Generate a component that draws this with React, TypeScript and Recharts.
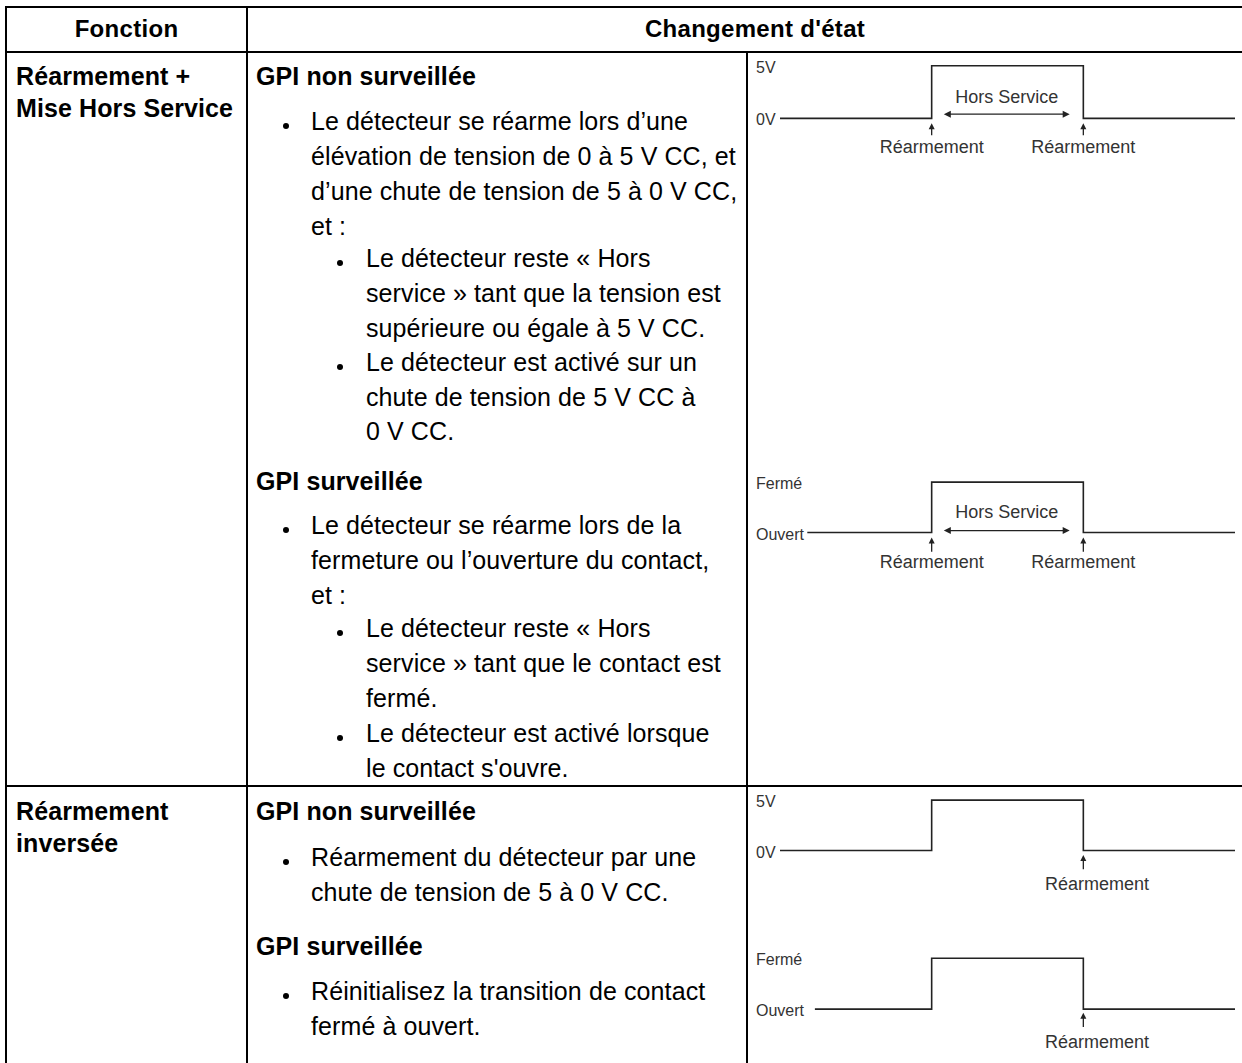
import React from "react";
import { LineChart, Line, XAxis, YAxis, ReferenceLine, ReferenceDot } from "recharts";

// ---- table text ----
const headerLabels = ["Fonction", "Changement d'état"];
const functionRow1 = ["Réarmement +", "Mise Hors Service"];
const functionRow2 = ["Réarmement", "inversée"];

// kind: h = bold title, b1/c1 = bullet + continuation, b2/c2 = nested bullet + continuation
type Ln = [string, string, number];
const descRow1: Ln[] = [
  ["h", "GPI non surveillée", 76],
  ["b1", "Le détecteur se réarme lors d’une", 121],
  ["c1", "élévation de tension de 0 à 5 V CC, et", 156],
  ["c1", "d’une chute de tension de 5 à 0 V CC,", 191],
  ["c1", "et :", 226],
  ["b2", "Le détecteur reste « Hors", 258],
  ["c2", "service » tant que la tension est", 293],
  ["c2", "supérieure ou égale à 5 V CC.", 328],
  ["b2", "Le détecteur est activé sur un", 362],
  ["c2", "chute de tension de 5 V CC à", 397],
  ["c2", "0 V CC.", 431],
  ["h", "GPI surveillée", 481],
  ["b1", "Le détecteur se réarme lors de la", 525],
  ["c1", "fermeture ou l’ouverture du contact,", 560],
  ["c1", "et :", 595],
  ["b2", "Le détecteur reste « Hors", 628],
  ["c2", "service » tant que le contact est", 663],
  ["c2", "fermé.", 698],
  ["b2", "Le détecteur est activé lorsque", 733],
  ["c2", "le contact s'ouvre.", 768],
];
const descRow2: Ln[] = [
  ["h", "GPI non surveillée", 811],
  ["b1", "Réarmement du détecteur par une", 857],
  ["c1", "chute de tension de 5 à 0 V CC.", 892],
  ["h", "GPI surveillée", 946],
  ["b1", "Réinitialisez la transition de contact", 991],
  ["c1", "fermé à ouvert.", 1026],
];

// ---- diagram data ----
const voltageLabels = ["0V", "5V"];
const contactLabels = ["Ouvert", "Fermé"];
const timesVoltage = [0, 1, 2, 3];
const timesContactA = [0.18, 1, 2, 3];
const timesContactB = [0.23, 1, 2, 3];
const pulseLevels = [0, 1, 0, 0];
const resetTimesBoth = [1, 2];
const resetTimesFall = [2];
const horsServiceSpan = [1.08, 1.91];
const resetLabel = "Réarmement";
const horsServiceLabel = "Hors Service";

const FONT = '"Liberation Sans", Arial, Helvetica, sans-serif';
const INK = "#222";
const LABEL = "#333";

const toRows = (times: number[]) => times.map((t, i) => ({ t, level: pulseLevels[i] }));

function DoubleArrow(p: any) {
  const { x1, y1, x2 } = p;
  const h = 7;
  const w = 3.5;
  return (
    <g>
      <line x1={x1 + h - 1} y1={y1} x2={x2 - h + 1} y2={y1} stroke={INK} strokeWidth={1.2} />
      <polygon points={`${x1},${y1} ${x1 + h},${y1 - w} ${x1 + h},${y1 + w}`} fill={INK} />
      <polygon points={`${x2},${y1} ${x2 - h},${y1 - w} ${x2 - h},${y1 + w}`} fill={INK} />
    </g>
  );
}

function UpArrow(p: any) {
  const { x1, y1, y2 } = p;
  const h = 6;
  const w = 3;
  return (
    <g>
      <line x1={x1} y1={y1} x2={x1} y2={y2 + h - 1} stroke={INK} strokeWidth={1.3} />
      <polygon points={`${x1},${y2} ${x1 - w},${y2 + h} ${x1 + w},${y2 + h}`} fill={INK} />
    </g>
  );
}

interface DiagramProps {
  top: number;
  height: number;
  times: number[];
  levelLabels: string[];
  resets: number[];
  resetLabelX: number;
  arrowTail: number;
  arrowHead: number;
  labelY: number;
  horsY?: number;
  horsArrowY?: number;
}

function Diagram(d: DiagramProps) {
  return (
    <div style={{ position: "absolute", left: 748, top: d.top }}>
      <LineChart
        width={494}
        height={d.height}
        data={toRows(d.times)}
        margin={{ top: 0, right: 7, bottom: 0, left: 0 }}
      >
        <XAxis type="number" dataKey="t" domain={[0, 3]} hide />
        <YAxis
          type="number"
          domain={[-1, 1.3]}
          ticks={[0, 1]}
          interval={0}
          width={32}
          axisLine={false}
          tickLine={false}
          tick={(p: any) => (
            <text x={8} y={p.y + 7} fontSize={16} fill={LABEL} fontFamily={FONT}>
              {d.levelLabels[p.payload.value]}
            </text>
          )}
        />
        <Line
          type="stepAfter"
          dataKey="level"
          stroke={INK}
          strokeWidth={1.6}
          dot={false}
          isAnimationActive={false}
        />
        {d.horsY !== undefined && (
          <ReferenceLine
            segment={[
              { x: horsServiceSpan[0], y: d.horsArrowY },
              { x: horsServiceSpan[1], y: d.horsArrowY },
            ]}
            shape={DoubleArrow}
          />
        )}
        {d.horsY !== undefined && (
          <ReferenceDot
            x={(horsServiceSpan[0] + horsServiceSpan[1]) / 2}
            y={d.horsY}
            r={0}
            fill="none"
            stroke="none"
            label={{ value: horsServiceLabel, position: "center", fill: LABEL, fontSize: 18, fontFamily: FONT }}
          />
        )}
        {d.resets.map((t) => (
          <ReferenceLine
            key={`a${t}`}
            segment={[
              { x: t, y: d.arrowTail },
              { x: t, y: d.arrowHead },
            ]}
            shape={UpArrow}
          />
        ))}
        {d.resets.map((t) => (
          <ReferenceDot
            key={`l${t}`}
            x={t + d.resetLabelX}
            y={d.labelY}
            r={0}
            fill="none"
            stroke="none"
            label={{ value: resetLabel, position: "center", fill: LABEL, fontSize: 18, fontFamily: FONT }}
          />
        ))}
      </LineChart>
    </div>
  );
}

const lineX: Record<string, number> = { h: 256, b1: 311, c1: 311, b2: 366, c2: 366 };
const bulletX: Record<string, number> = { b1: 286, b2: 340 };

function TextLine({ text, cy, x, bold }: { text: string; cy: number; x: number; bold?: boolean }) {
  return (
    <div
      style={{
        position: "absolute",
        left: x,
        top: cy - 18,
        lineHeight: "36px",
        fontSize: 25,
        letterSpacing: 0.1,
        whiteSpace: "nowrap",
        fontWeight: bold ? 700 : 400,
      }}
    >
      {text}
    </div>
  );
}

function Desc({ lines }: { lines: Ln[] }) {
  return (
    <>
      {lines.map(([kind, text, cy], i) => (
        <React.Fragment key={i}>
          {bulletX[kind] !== undefined && (
            <div
              style={{
                position: "absolute",
                left: bulletX[kind] - 3,
                top: cy + 2,
                width: 6,
                height: 6,
                borderRadius: "50%",
                background: "#000",
              }}
            />
          )}
          <TextLine text={text} cy={cy} x={lineX[kind]} bold={kind === "h"} />
        </React.Fragment>
      ))}
    </>
  );
}

const rule = (left: number, top: number, width: number, height: number) => (
  <div style={{ position: "absolute", left, top, width, height, background: "#000" }} />
);

export default function App() {
  return (
    <div
      style={{
        position: "absolute",
        left: 0,
        top: 0,
        width: 1242,
        height: 1063,
        overflow: "hidden",
        background: "#fff",
        fontFamily: FONT,
        color: "#000",
      }}
    >
      {rule(5, 6, 1300, 2)}
      {rule(5, 51, 1300, 2)}
      {rule(5, 785, 1300, 2)}
      {rule(5, 6, 2, 1100)}
      {rule(246, 6, 2, 1100)}
      {rule(746, 51, 2, 1100)}

      <div style={{ position: "absolute", left: 7, width: 239, top: 11, lineHeight: "36px", fontSize: 24, fontWeight: 700, letterSpacing: 0.3, textAlign: "center" }}>
        {headerLabels[0]}
      </div>
      <div style={{ position: "absolute", left: 248, width: 1014, top: 11, lineHeight: "36px", fontSize: 24, fontWeight: 700, letterSpacing: 0.3, textAlign: "center" }}>
        {headerLabels[1]}
      </div>

      <TextLine text={functionRow1[0]} cy={76} x={16} bold />
      <TextLine text={functionRow1[1]} cy={108} x={16} bold />
      <TextLine text={functionRow2[0]} cy={811} x={16} bold />
      <TextLine text={functionRow2[1]} cy={843} x={16} bold />

      <Desc lines={descRow1} />
      <Desc lines={descRow2} />

      <Diagram
        top={50}
        height={121}
        times={timesVoltage}
        levelLabels={voltageLabels}
        resets={resetTimesBoth}
        resetLabelX={0}
        arrowTail={-0.32}
        arrowHead={-0.09}
        labelY={-0.54}
        horsY={0.41}
        horsArrowY={0.08}
      />
      <Diagram
        top={467}
        height={116}
        times={timesContactA}
        levelLabels={contactLabels}
        resets={resetTimesBoth}
        resetLabelX={0}
        arrowTail={-0.38}
        arrowHead={-0.1}
        labelY={-0.58}
        horsY={0.42}
        horsArrowY={0.04}
      />
      <Diagram
        top={785}
        height={116}
        times={timesVoltage}
        levelLabels={voltageLabels}
        resets={resetTimesFall}
        resetLabelX={0.09}
        arrowTail={-0.37}
        arrowHead={-0.09}
        labelY={-0.65}
      />
      <Diagram
        top={943}
        height={117}
        times={timesContactB}
        levelLabels={contactLabels}
        resets={resetTimesFall}
        resetLabelX={0.09}
        arrowTail={-0.35}
        arrowHead={-0.07}
        labelY={-0.64}
      />
    </div>
  );
}
